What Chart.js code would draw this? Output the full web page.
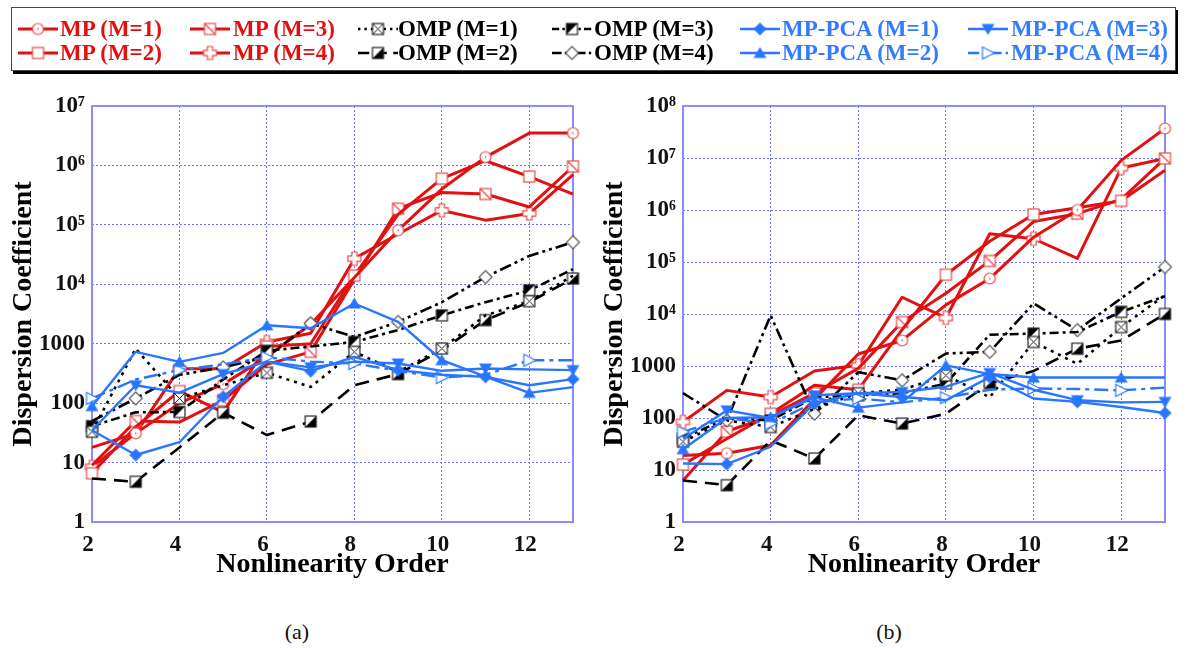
<!DOCTYPE html>
<html>
<head>
<meta charset="utf-8">
<script src="https://cdn.jsdelivr.net/npm/chart.js@4.4.1/dist/chart.umd.min.js"></script>
<style>
  body { margin: 0; background: #fff; }
  #page { position: relative; width: 1186px; height: 648px; overflow: hidden; background: #fff;
          font-family: 'Liberation Serif', 'Times New Roman', serif; }
  .plot { position: absolute; top: 0; }
  #legendBox { position: absolute; left: 11px; top: 7px; width: 1163px; height: 62px;
               border: 1.5px solid #444; box-shadow: 2px 3px 0 #000; background: #fff; }
  .entry { position: absolute; height: 24px; }
  .entry canvas { position: absolute; left: 0; top: 0; }
  .entry span { position: absolute; top: 0; line-height: 24px; font-weight: bold; font-size: 23px; white-space: nowrap; }
  .cap { position: absolute; top: 619px; font-size: 22px; width: 60px; text-align: center; color: #111; }
</style>
</head>
<body>
<div id="page">
  <canvas id="chartA" class="plot" width="595" height="600" style="left:0px"></canvas>
  <canvas id="chartB" class="plot" width="595" height="600" style="left:591px"></canvas>
  <div id="legendBox"></div>
  <div class="cap" style="left:267px">(a)</div>
  <div class="cap" style="left:859px">(b)</div>
</div>
<script>
// ---- axis values ----
const orders = [2, 3, 4, 5, 6, 7, 8, 9, 10, 11, 12, 13];
const xTicks = [2, 4, 6, 8, 10, 12];
const yTickLabelsA = ['1', '10', '100', '1000', '10⁴', '10⁵', '10⁶', '10⁷'];
const yTickLabelsB = ['1', '10', '100', '1000', '10⁴', '10⁵', '10⁶', '10⁷', '10⁸'];
const seriesNames = ['MP (M=1)', 'MP (M=2)', 'MP (M=3)', 'MP (M=4)',
                     'OMP (M=1)', 'OMP (M=2)', 'OMP (M=3)', 'OMP (M=4)',
                     'MP-PCA (M=1)', 'MP-PCA (M=2)', 'MP-PCA (M=3)', 'MP-PCA (M=4)'];

// ---- panel (a): dispersion coefficient vs. nonlinearity order ----
const mp1A   = [18, 31, 100, 209, 600, 2130, 13000, 81000, 400000, 1380000, 3500000, 3500000];
const mp2A   = [6.6, 40, 160, 70, 900, 1000, 14000, 150000, 600000, 1200000, 650000, 330000];
const mp3A   = [9, 50, 48, 112, 450, 730, 12000, 187000, 350000, 330000, 200000, 960000];
const mp4A   = [8.5, 31, 380, 380, 1070, 1500, 27000, 70000, 175000, 120000, 155000, 700000];
const omp1A  = [33, 830, 120, 200, 324, 187, 730, 335, 830, 3000, 5200, 14000];
const omp2A  = [5.4, 4.75, 18, 69, 29, 49, 200, 308, 780, 2500, 5000, 12500];
const omp3A  = [41, 70, 71, 250, 760, 900, 1070, 1700, 3000, 5000, 7900, 18000];
const omp4A  = [50, 120, 300, 400, 600, 2200, 1300, 2330, 5000, 13200, 30000, 51000];
const pca1A  = [35, 13.4, 22, 128, 500, 345, 600, 360, 300, 277, 200, 253];
const pca2A  = [89, 730, 495, 700, 2040, 1820, 4750, 2330, 527, 280, 149, 186];
const pca3A  = [35, 200, 150, 308, 500, 400, 500, 465, 350, 382, 370, 360];
const pca4A  = [120, 250, 360, 450, 590, 500, 465, 350, 270, 300, 527, 527];

// ---- panel (b) ----
const mp1B   = [19, 21, 30, 230, 1700, 3100, 15000, 48000, 300000, 1000000, 9000000, 37000000];
const mp2B   = [12.7, 40, 121, 425, 350, 5000, 57000, 250000, 820000, 1100000, 1500000, 5800000];
const mp3B   = [6.3, 55, 110, 300, 900, 7000, 25000, 105000, 600000, 850000, 1600000, 9800000];
const mp4B   = [84, 340, 253, 800, 1030, 21000, 8400, 350000, 280000, 117000, 6400000, 9800000];
const omp1B  = [35, 90, 67, 150, 300, 350, 660, 250, 2900, 1100, 5600, 23000];
const omp2B  = [6.3, 5.1, 37, 16.6, 113, 78, 121, 470, 800, 2150, 3100, 10000];
const omp3B  = [40, 100, 90, 250, 272, 300, 460, 4000, 4200, 4500, 11000, 22000];
const omp4B  = [300, 90, 9400, 121, 760, 530, 1740, 1870, 16000, 4900, 20000, 80000];
const pca1B  = [13.3, 13, 28, 190, 300, 253, 220, 610, 237, 204, 163, 125];
const pca2B  = [25, 100, 104, 250, 158, 200, 1030, 700, 600, 600, 600, 600];
const pca3B  = [40, 140, 100, 273, 300, 316, 400, 735, 350, 220, 200, 204];
const pca4B  = [54, 100, 78, 200, 237, 200, 246, 350, 370, 360, 340, 385];

const tableA = [mp1A, mp2A, mp3A, mp4A, omp1A, omp2A, omp3A, omp4A, pca1A, pca2A, pca3A, pca4A];
const tableB = [mp1B, mp2B, mp3B, mp4B, omp1B, omp2B, omp3B, omp4B, pca1B, pca2B, pca3B, pca4B];

// ---- styles ----
const RED = 'rgb(226,16,16)';
const RED_MARK = 'rgb(236,70,70)';
const BLACK = '#000';
const BLUE = 'rgb(40,118,255)';
const FONT = "'Liberation Serif', 'Times New Roman', serif";
const TICK_FONT = { family: FONT, size: 23, weight: 'bold' };
const TITLE_FONT = { family: FONT, size: 28, weight: 'bold' };

// phase: marker drawn where index % 2 === phase (0 -> even orders, 1 -> odd orders)
const seriesStyle = [
  { color: RED,   width: 3,   dash: [],                 marker: 'circle',      phase: 1, layer: 3 },
  { color: RED,   width: 3,   dash: [],                 marker: 'square',      phase: 0, layer: 3 },
  { color: RED,   width: 3,   dash: [],                 marker: 'squareDiag',  phase: 1, layer: 3 },
  { color: RED,   width: 3,   dash: [],                 marker: 'plus',        phase: 0, layer: 3 },
  { color: BLACK, width: 2.6, dash: [3, 5],             marker: 'squareX',     phase: 0, layer: 2 },
  { color: BLACK, width: 2.6, dash: [14, 8],            marker: 'halfLR',      phase: 1, layer: 2 },
  { color: BLACK, width: 2.6, dash: [9, 4, 3, 4],       marker: 'halfUL',      phase: 0, layer: 2 },
  { color: BLACK, width: 2.6, dash: [12, 4, 3, 4, 3, 4], marker: 'diamond',    phase: 1, layer: 2 },
  { color: BLUE,  width: 2.4, dash: [],                 marker: 'diamondFill', phase: 1, layer: 1 },
  { color: BLUE,  width: 2.4, dash: [],                 marker: 'triUp',       phase: 0, layer: 1 },
  { color: BLUE,  width: 2.4, dash: [],                 marker: 'triDown',     phase: 1, layer: 1 },
  { color: BLUE,  width: 2.4, dash: [14, 5, 4, 5],      marker: 'triRight',    phase: 0, layer: 1 }
];

// ---- marker glyphs drawn on small canvases ----
function poly(g, pts) {
  g.beginPath();
  pts.forEach((p, i) => (i ? g.lineTo(p[0], p[1]) : g.moveTo(p[0], p[1])));
  g.closePath();
}
function makeMarker(kind) {
  const s = 17, m = s / 2;
  const c = document.createElement('canvas');
  c.width = s; c.height = s;
  const g = c.getContext('2d');
  g.lineWidth = 1.2;
  g.fillStyle = '#fff';
  const h = 5.5;
  switch (kind) {
    case 'circle':
      g.beginPath(); g.arc(m, m, h, 0, Math.PI * 2); g.fill();
      g.strokeStyle = RED_MARK; g.stroke();
      g.fillStyle = RED_MARK; g.fillRect(m - 0.6, m - 1, 1.2, 2);
      break;
    case 'square':
    case 'squareDiag':
      g.fillRect(m - h, m - h, 2 * h, 2 * h);
      g.strokeStyle = RED_MARK; g.strokeRect(m - h, m - h, 2 * h, 2 * h);
      if (kind === 'squareDiag') { g.beginPath(); g.moveTo(m - h, m - h); g.lineTo(m + h, m + h); g.stroke(); }
      break;
    case 'plus': {
      const a = 2.6, L = 6.5;
      poly(g, [[-a, -L], [a, -L], [a, -a], [L, -a], [L, a], [a, a], [a, L], [-a, L], [-a, a], [-L, a], [-L, -a], [-a, -a]]
        .map(p => [m + p[0], m + p[1]]));
      g.fill(); g.strokeStyle = RED_MARK; g.stroke();
      break;
    }
    case 'squareX':
      g.fillRect(m - h, m - h, 2 * h, 2 * h);
      g.strokeStyle = '#222'; g.strokeRect(m - h, m - h, 2 * h, 2 * h);
      g.beginPath(); g.moveTo(m - h, m - h); g.lineTo(m + h, m + h);
      g.moveTo(m + h, m - h); g.lineTo(m - h, m + h); g.lineWidth = 1; g.stroke();
      break;
    case 'halfLR':
    case 'halfUL':
      g.fillRect(m - h, m - h, 2 * h, 2 * h);
      g.fillStyle = '#000';
      if (kind === 'halfLR') poly(g, [[m - h, m + h], [m + h, m + h], [m + h, m - h]]);
      else poly(g, [[m - h, m - h], [m + h, m - h], [m - h, m + h]]);
      g.fill();
      g.strokeStyle = '#222'; g.strokeRect(m - h, m - h, 2 * h, 2 * h);
      break;
    case 'diamond':
      poly(g, [[m, m - 6.5], [m + 6.5, m], [m, m + 6.5], [m - 6.5, m]]);
      g.fill(); g.strokeStyle = '#555'; g.lineWidth = 1.1; g.stroke();
      break;
    case 'diamondFill':
      poly(g, [[m, m - 6.5], [m + 6.5, m], [m, m + 6.5], [m - 6.5, m]]);
      g.fillStyle = BLUE; g.fill();
      break;
    case 'triUp':
      poly(g, [[m, m - 6], [m + 6.5, m + 5], [m - 6.5, m + 5]]);
      g.fillStyle = BLUE; g.fill();
      break;
    case 'triDown':
      poly(g, [[m - 6.5, m - 5], [m + 6.5, m - 5], [m, m + 6]]);
      g.fillStyle = BLUE; g.fill();
      break;
    case 'triRight':
      poly(g, [[m - 5.5, m - 6], [m + 6.5, m], [m - 5.5, m + 6]]);
      g.fill(); g.strokeStyle = BLUE; g.lineWidth = 1.1; g.stroke();
      break;
  }
  return c;
}
const markerImgs = seriesStyle.map(s => makeMarker(s.marker));

// ---- legend (two rows, six columns, column-major) ----
const legendCols = [
  { line: 18,  text: 60 },
  { line: 190, text: 233 },
  { line: 358, text: 398 },
  { line: 552, text: 594 },
  { line: 740, text: 782 },
  { line: 968, text: 1011 }
];
const legendRows = [28.5, 52.5];
const page = document.getElementById('page');
seriesNames.forEach((name, k) => {
  const col = legendCols[Math.floor(k / 2)], rowY = legendRows[k % 2];
  const st = seriesStyle[k];
  const div = document.createElement('div');
  div.className = 'entry';
  div.style.left = col.line + 'px';
  div.style.top = (rowY - 12) + 'px';
  const cv = document.createElement('canvas');
  cv.width = 42; cv.height = 24;
  const g = cv.getContext('2d');
  g.strokeStyle = st.color; g.lineWidth = st.width;
  g.setLineDash(st.dash.length ? st.dash.map(d => d * 0.8) : []);
  g.beginPath(); g.moveTo(0, 12); g.lineTo(40, 12); g.stroke();
  g.drawImage(markerImgs[k], 20 - 8.5, 12 - 8.5);
  div.appendChild(cv);
  const sp = document.createElement('span');
  sp.textContent = name;
  sp.style.left = (col.text - col.line) + 'px';
  sp.style.color = st.color === BLACK ? '#000' : (st.color === RED ? RED : 'rgb(50,125,255)');
  div.appendChild(sp);
  page.appendChild(div);
});

// ---- plot frame drawn around the chart area ----
const framePlugin = {
  id: 'frame',
  beforeDatasetsDraw(chart) {
    const { ctx, chartArea: a } = chart;
    ctx.save();
    ctx.strokeStyle = 'rgb(140,140,255)';
    ctx.lineWidth = 2;
    ctx.strokeRect(a.left, a.top, a.right - a.left, a.bottom - a.top);
    ctx.restore();
  }
};

function buildChart(id, table, yMax, yLabels, padRight) {
  const datasets = table.map((vals, k) => {
    const st = seriesStyle[k];
    return {
      label: seriesNames[k],
      data: orders.map((x, i) => ({ x, y: vals[i] })),
      borderColor: st.color,
      backgroundColor: st.color,
      borderWidth: st.width,
      borderDash: st.dash,
      borderCapStyle: 'butt',
      borderJoinStyle: 'round',
      pointStyle: markerImgs[k],
      pointRadius: c => (c.dataIndex % 2 === st.phase ? 6 : 0),
      pointHoverRadius: c => (c.dataIndex % 2 === st.phase ? 6 : 0),
      tension: 0,
      fill: false,
      clip: false,
      order: st.layer
    };
  });
  return new Chart(document.getElementById(id), {
    type: 'line',
    data: { datasets },
    plugins: [framePlugin],
    options: {
      responsive: false,
      animation: false,
      events: [],
      layout: { padding: { top: 106, right: padRight, bottom: 0, left: 0 } },
      plugins: { legend: { display: false }, tooltip: { enabled: false } },
      scales: {
        x: {
          type: 'linear', min: 2, max: 13,
          afterBuildTicks: s => { s.ticks = xTicks.map(v => ({ value: v })); },
          afterFit: s => { s.height = 78; },
          grid: { color: 'rgb(110,110,255)', lineWidth: 1, drawTicks: false },
          border: { display: false, dash: [2, 2] },
          ticks: { font: TICK_FONT, color: '#111', padding: 9,
                   labelOffset: -4, maxRotation: 0, autoSkip: false },
          title: { display: true, text: 'Nonlinearity Order', color: '#000',
                   font: TITLE_FONT, padding: { top: 0, bottom: 18 } }
        },
        y: {
          type: 'logarithmic', min: 1, max: yMax,
          afterBuildTicks: s => {
            const t = [];
            for (let v = 1; v <= yMax * 1.0001; v *= 10) t.push({ value: v });
            s.ticks = t;
          },
          afterFit: s => { s.width = 92; },
          grid: { color: 'rgb(110,110,255)', lineWidth: 1, drawTicks: false },
          border: { display: false, dash: [2, 2] },
          ticks: { callback: (v, i) => yLabels[i], font: TICK_FONT,
                   color: '#111', padding: 7, autoSkip: false },
          title: { display: true, text: 'Dispersion Coefficient', color: '#000',
                   font: TITLE_FONT, padding: { top: 7, bottom: 0 } }
        }
      }
    }
  });
}

buildChart('chartA', tableA, 1e7, yTickLabelsA, 22);
buildChart('chartB', tableB, 1e8, yTickLabelsB, 21);
</script>
</body>
</html>
